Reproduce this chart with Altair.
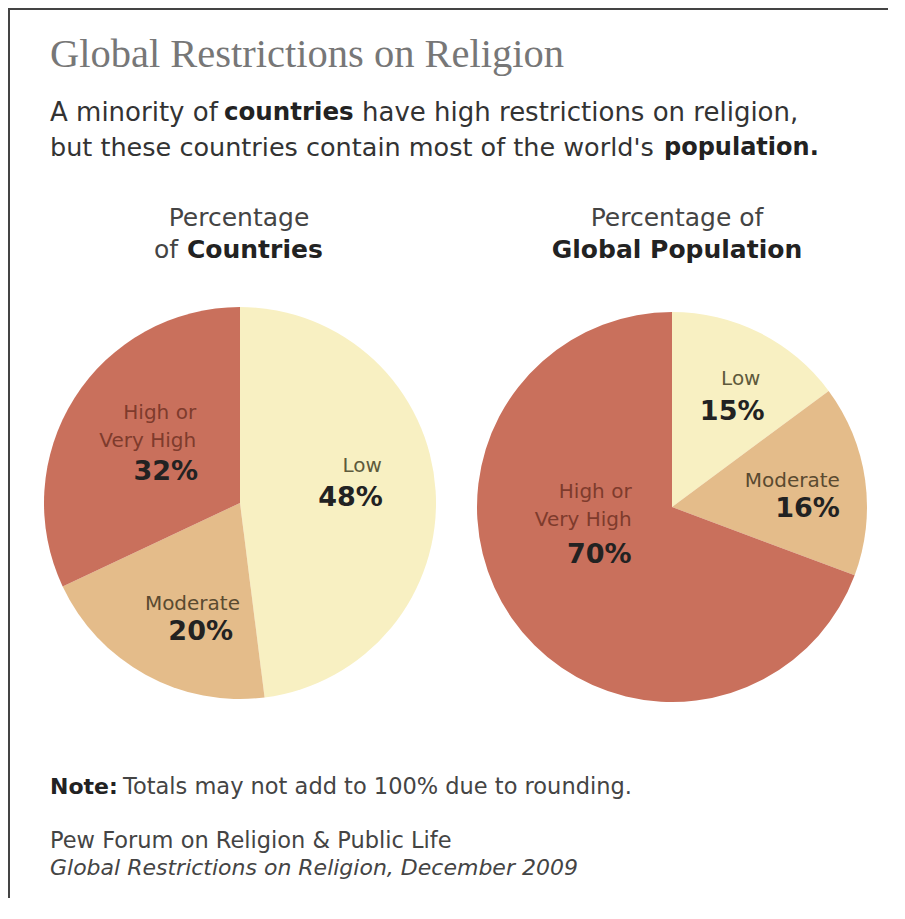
import altair as alt
import pandas as pd

# ---- data ----
categories = ["Low", "Moderate", "High or Very High"]
label_names = ["Low", "Moderate", "High or\nVery High"]
countries_pct = [48, 20, 32]
population_pct = [15, 16, 70]
slice_colors = ["#f8f0c2", "#e4bc8a", "#c9705c"]

M = 8  # page margin
LH = 28  # line height of two-line slice names
W, H = 880, 890


def frame(values):
    return pd.DataFrame({
        "cat": categories,
        "name": label_names,
        "value": values,
        "pct": [f"{v}%" for v in values],
        "idx": list(range(len(categories))),
    })


df_c = frame(countries_pct)
df_p = frame(population_pct)

color_scale = alt.Scale(domain=categories, range=slice_colors)
one = alt.Data(values=[{}])


def txt(s, x, y, size, weight="normal", color="#333333", font="DejaVu Sans",
        align="left", style="normal", baseline="middle"):
    return alt.Chart(one).mark_text(
        text=s, font=font, fontSize=size, fontWeight=weight, color=color,
        align=align, baseline=baseline, fontStyle=style,
    ).encode(x=alt.value(x - M), y=alt.value(y - M))


def pie(df, cx, cy, r):
    return alt.Chart(df).mark_arc(outerRadius=r).encode(
        theta=alt.Theta("value:Q", stack=True),
        color=alt.Color("cat:N", scale=color_scale, legend=None),
        order=alt.Order("idx:Q"),
        x=alt.value(cx - M), y=alt.value(cy - M),
    )


def slice_label(df, cx, cy, cat, name_off, pct_off, name_color):
    base = alt.Chart(df)
    n_lines = label_names[categories.index(cat)].count("\n") + 1
    enc = dict(theta=alt.Theta("value:Q", stack=True), order=alt.Order("idx:Q"),
               x=alt.value(cx - M), y=alt.value(cy - M))
    name = base.mark_text(
        radius=110, align="right", baseline="alphabetic", lineBreak="\n",
        font="DejaVu Sans", fontSize=20, color=name_color, lineHeight=LH,
        dx=name_off[0], dy=name_off[1] - (n_lines - 1) * LH,
    ).encode(text=alt.condition(alt.datum.cat == cat, alt.Text("name:N"), alt.value("")), **enc)
    pct = base.mark_text(
        radius=110, align="right", baseline="middle",
        font="DejaVu Sans", fontSize=27, fontWeight="bold", color="#222222",
        dx=pct_off[0], dy=pct_off[1],
    ).encode(text=alt.condition(alt.datum.cat == cat, alt.Text("pct:N"), alt.value("")), **enc)
    return [name, pct]


C1 = (240, 503, 196)
C2 = (672, 507, 195)

layers = []
# frame lines (top and left)
layers.append(alt.Chart(one).mark_rule(color="#444444", strokeWidth=2).encode(
    x=alt.value(0), x2=alt.value(W), y=alt.value(1)))
layers.append(alt.Chart(one).mark_rule(color="#444444", strokeWidth=2).encode(
    x=alt.value(1), y=alt.value(0), y2=alt.value(H)))

# title and subtitle
layers.append(txt("Global Restrictions on Religion", 50, 55, 40.5, font="Liberation Serif", color="#777777"))
layers.append(txt("A minority of", 50, 113, 26))
layers.append(txt("countries", 224, 113, 24.5, weight="bold", color="#222222"))
layers.append(txt("have high restrictions on religion,", 362, 113, 26))
layers.append(txt("but these countries contain most of the world's", 50, 148, 25.5))
layers.append(txt("population.", 664, 148, 24, weight="bold", color="#222222"))

# pie headings
layers.append(txt("Percentage", 239, 218, 25, align="center", color="#444444"))
layers.append(txt("of", 178, 250, 25, align="right", color="#444444"))
layers.append(txt("Countries", 187, 250, 25, weight="bold", color="#222222"))
layers.append(txt("Percentage of", 677, 218, 25, align="center", color="#444444"))
layers.append(txt("Global Population", 677, 250, 25, weight="bold", align="center", color="#222222"))

# pies
layers.append(pie(df_c, *C1))
layers.append(pie(df_p, *C2))

# slice labels
layers += slice_label(df_c, C1[0], C1[1], "Low", (32, -24), (33, 2), "#5e5a3c")
layers += slice_label(df_c, C1[0], C1[1], "Moderate", (53, 11), (46, 33), "#5a4a30")
layers += slice_label(df_c, C1[0], C1[1], "High or Very High", (49, 3), (51, 28), "#7e3b2c")
layers += slice_label(df_p, C2[0], C2[1], "Low", (39, -24), (43, 3), "#5e5a3c")
layers += slice_label(df_p, C2[0], C2[1], "Moderate", (59, -5), (59, 17), "#5a4a30")
layers += slice_label(df_p, C2[0], C2[1], "High or Very High", (50, -44), (50, -15), "#7e3b2c")

# note and source
layers.append(txt("Note:", 50, 787, 22, weight="bold", color="#222222"))
layers.append(txt("Totals may not add to 100% due to rounding.", 123, 787, 22.5, color="#444444"))
layers.append(txt("Pew Forum on Religion & Public Life", 50, 841, 22.5, color="#444444"))
layers.append(txt("Global Restrictions on Religion, December 2009", 50, 868, 22,
                  style="italic", color="#444444"))

chart = alt.layer(*layers).resolve_scale(theta="independent").properties(
    width=W, height=H, padding=0,
    autosize=alt.AutoSizeParams(type="none"),
    background="white",
).configure_view(strokeWidth=0, strokeOpacity=0)

chart.save("out.html", embed_options={"renderer": "svg", "actions": False})
